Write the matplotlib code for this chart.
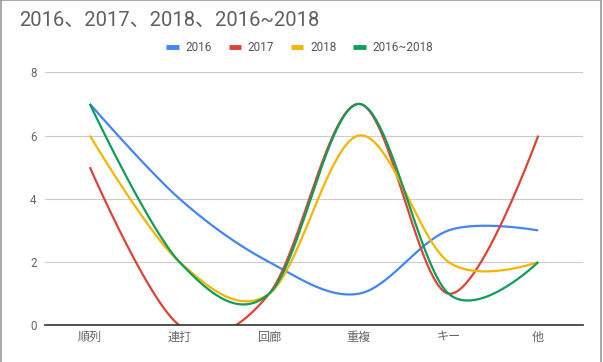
import numpy as np
import matplotlib
matplotlib.use("Agg")
import matplotlib.pyplot as plt
from matplotlib.lines import Line2D

plt.rcParams['font.family'] = ['Roboto', 'Noto Sans CJK JP', 'DejaVu Sans']

# ── データ ─────────────────────────────────────────────
categories = ["順列", "連打", "回廊", "重複", "キー", "他"]
s2016 = [7, 4, 2, 1, 3, 3]
s2017 = [5, 0, 1, 7, 1, 6]
s2018 = [6, 2, 1, 6, 2, 2]
s_all = [7, 2, 1, 7, 1, 2]
series_names = ["2016", "2017", "2018", "2016~2018"]
colors = ["#4285F4", "#DB4437", "#F4B400", "#0F9D58"]
title = "2016、2017、2018、2016~2018"


def smooth(ys, n=60):
    """Google Charts風のスムージング (端点は制御点=端点のベジェ)"""
    xs = np.arange(len(ys), dtype=float)
    ys = np.asarray(ys, dtype=float)
    P = np.column_stack([xs, ys])
    T = np.zeros_like(P)
    T[1:-1] = (P[2:] - P[:-2]) / 6.0
    out = []
    t = np.linspace(0, 1, n)[:, None]
    for i in range(len(P) - 1):
        p0, p3 = P[i], P[i + 1]
        c1, c2 = p0 + T[i], p3 - T[i + 1]
        seg = ((1 - t) ** 3) * p0 + 3 * ((1 - t) ** 2) * t * c1 \
            + 3 * (1 - t) * t ** 2 * c2 + t ** 3 * p3
        out.append(seg if i == 0 else seg[1:])
    seg = np.vstack(out)
    return seg[:, 0], seg[:, 1]


fig = plt.figure(figsize=(6.03, 3.62), dpi=100)
ax = fig.add_axes([0.0746, 0.1014, 0.8924, 0.6989])

for ys, c in zip([s2016, s2017, s2018, s_all], colors):
    sx, sy = smooth(ys)
    ax.plot(sx, sy, color=c, lw=1.6, solid_capstyle="butt")

ax.set_xlim(-0.5, len(categories) - 0.5)
ax.set_ylim(0, 8)
ax.set_yticks([0, 2, 4, 6, 8])
ax.set_xticks(range(len(categories)))
ax.set_xticklabels(categories, fontsize=8.7, color="#666666",
                   family=['Noto Sans CJK JP', 'DejaVu Sans'])
ax.tick_params(axis="y", labelsize=8.3, labelcolor="#666666", length=0, pad=6)
ax.tick_params(axis="x", length=0, pad=4)
ax.grid(axis="y", color="#cccccc", lw=0.8)
ax.set_axisbelow(True)
for side in ["left", "right", "top"]:
    ax.spines[side].set_visible(False)
ax.spines["bottom"].set_color("#333333")
ax.spines["bottom"].set_linewidth(1.2)
ax.spines["bottom"].set_zorder(5)

fig.text(0.031, 0.945, title, fontsize=14.5, color="#5f5f5f", va="center",
         family=['Roboto', 'Noto Sans CJK JP'])

handles = [Line2D([], [], color=c, lw=3.5, solid_capstyle="butt") for c in colors]
leg = fig.legend(handles, series_names, loc="center", bbox_to_anchor=(0.497, 0.868),
                 ncol=4, frameon=False, fontsize=8.5, handlelength=1.05,
                 handletextpad=0.55, columnspacing=1.45)
for t in leg.get_texts():
    t.set_color("#555555")

# 外枠
for xs_, ys_ in [([0.001, 0.001], [0, 1]), ([0, 0.997], [0.999, 0.999]),
                 ([0.997, 0.997], [0, 1])]:
    fig.add_artist(Line2D(xs_, ys_, color="#999999", lw=1.2, transform=fig.transFigure))

fig.savefig("out.png", dpi=100)
